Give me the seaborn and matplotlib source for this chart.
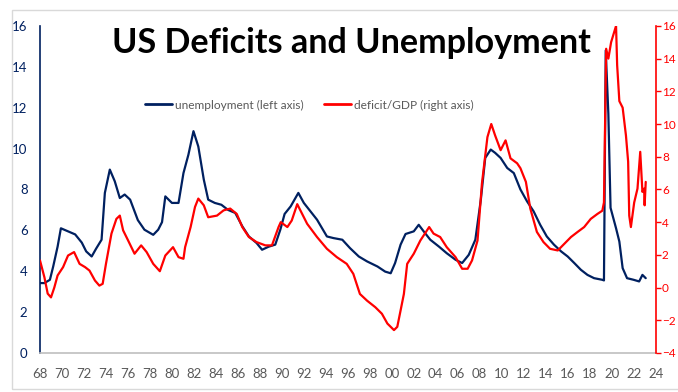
import matplotlib
matplotlib.use("Agg")
import matplotlib.pyplot as plt
from matplotlib.lines import Line2D
from matplotlib.patches import Rectangle
import seaborn as sns
import pandas as pd

# unemployment rate (%), left axis -- positions in chart years as drawn
unemp_year = [1968.0, 1968.4, 1968.9, 1969.2, 1969.6, 1969.9, 1970.55, 1971.2, 1971.8, 1972.2,
              1972.7, 1973.1, 1973.6, 1973.9, 1974.35, 1974.8, 1975.26, 1975.7, 1976.2, 1976.9,
              1977.5, 1978.3, 1978.75, 1979.1, 1979.4, 1980.0, 1980.6, 1981.05, 1981.5, 1981.96,
              1982.4, 1982.9, 1983.3, 1983.9, 1984.5, 1985.1, 1985.76, 1986.4, 1987.0, 1987.7,
              1988.2, 1988.8, 1989.4, 1989.86, 1990.25, 1990.8, 1991.5, 1992.0, 1992.6, 1993.2,
              1994.1, 1994.7, 1995.5, 1996.2, 1997.0, 1997.75, 1998.7, 1999.4, 1999.9, 2000.3,
              2000.8, 2001.25, 2002.0, 2002.45, 2002.9, 2003.5, 2004.3, 2005.0, 2005.8, 2006.4,
              2007.0, 2007.6, 2008.1, 2008.5, 2009.0, 2009.4, 2009.9, 2010.5, 2011.1, 2011.7,
              2012.3, 2012.9, 2013.5, 2014.1, 2014.75, 2015.4, 2016.0, 2016.6, 2017.2, 2017.8,
              2018.4, 2019.15, 2019.3, 2019.46, 2019.7, 2019.9, 2020.4, 2020.7, 2021.0, 2021.4,
              2022.0, 2022.5, 2022.8, 2023.1]
unemp_rate = [3.42, 3.42, 3.58, 4.23, 5.2, 6.1, 5.95, 5.8, 5.4, 4.97,
              4.72, 5.1, 5.54, 7.83, 8.97, 8.4, 7.58, 7.75, 7.5, 6.5,
              6.03, 5.78, 6.03, 6.4, 7.66, 7.34, 7.34, 8.8, 9.7, 10.85,
              10.1, 8.48, 7.5, 7.34, 7.25, 7.0, 6.85, 6.2, 5.7, 5.38,
              5.05, 5.2, 5.3, 6.03, 6.8, 7.17, 7.83, 7.34, 6.93, 6.52,
              5.7, 5.62, 5.54, 5.13, 4.72, 4.48, 4.23, 3.98, 3.9, 4.4,
              5.3, 5.82, 5.95, 6.27, 5.95, 5.54, 5.2, 4.88, 4.56, 4.4,
              4.8, 5.54, 7.5, 9.54, 9.95, 9.79, 9.54, 9.05, 8.8, 8.0,
              7.42, 6.93, 6.27, 5.7, 5.3, 4.97, 4.72, 4.4, 4.07, 3.82,
              3.66, 3.58, 3.55, 14.8, 11.7, 7.1, 6.1, 5.45, 4.15, 3.66,
              3.58, 3.5, 3.82, 3.66]

# deficit as % of GDP, right axis
deficit_year = [1968.0, 1968.4, 1968.7, 1969.0, 1969.3, 1969.6, 1970.1, 1970.55, 1971.1, 1971.6,
                1972.1, 1972.5, 1973.0, 1973.4, 1973.7, 1974.0, 1974.5, 1974.95, 1975.26, 1975.56,
                1976.0, 1976.6, 1977.2, 1977.7, 1978.3, 1978.9, 1979.4, 1980.1, 1980.6, 1981.05,
                1981.2, 1981.7, 1982.1, 1982.4, 1982.9, 1983.3, 1984.1, 1984.7, 1985.3, 1985.9,
                1986.4, 1987.0, 1987.7, 1988.5, 1989.1, 1989.7, 1989.9, 1990.5, 1990.9, 1991.4,
                1991.7, 1992.3, 1993.2, 1994.1, 1995.0, 1995.9, 1996.5, 1997.1, 1997.75, 1998.5,
                1999.1, 1999.6, 2000.2, 2000.5, 2000.8, 2001.1, 2001.4, 2002.0, 2002.6, 2003.4,
                2003.8, 2004.4, 2005.0, 2005.8, 2006.4, 2006.9, 2007.3, 2007.8, 2008.2, 2008.7,
                2009.05, 2009.4, 2009.9, 2010.35, 2010.8, 2011.4, 2011.7, 2012.2, 2012.6, 2013.2,
                2013.8, 2014.4, 2015.1, 2015.7, 2016.3, 2016.9, 2017.5, 2018.1, 2018.7, 2019.15,
                2019.3, 2019.5, 2019.7, 2019.95, 2020.4, 2020.5, 2020.7, 2021.0, 2021.3, 2021.5,
                2021.6, 2021.75, 2022.05, 2022.35, 2022.6, 2022.8, 2022.95, 2023.0, 2023.1]
deficit_gdp = [1.66, 0.63, -0.37, -0.6, 0.0, 0.74, 1.25, 1.96, 2.17, 1.45,
               1.25, 1.04, 0.43, 0.12, 0.23, 1.45, 3.3, 4.2, 4.4, 3.5,
               2.9, 2.07, 2.58, 2.17, 1.45, 1.0, 1.96, 2.47, 1.86, 1.76,
               2.47, 3.7, 4.93, 5.44, 5.03, 4.3, 4.4, 4.72, 4.83, 4.5,
               3.7, 3.09, 2.78, 2.58, 2.58, 3.7, 4.0, 3.7, 4.1, 5.1,
               4.7, 3.9, 3.09, 2.37, 1.86, 1.45, 0.84, -0.39, -0.8, -1.2,
               -1.6, -2.2, -2.6, -2.4, -1.4, -0.39, 1.45, 2.07, 2.88, 3.7,
               3.3, 3.09, 2.47, 1.86, 1.15, 1.15, 1.66, 2.88, 6.36, 9.2,
               10.0, 9.3, 8.4, 9.0, 7.9, 7.6, 7.3, 6.46, 4.83, 3.4,
               2.78, 2.37, 2.27, 2.68, 3.09, 3.4, 3.7, 4.2, 4.5, 4.7,
               5.2, 14.6, 14.0, 15.0, 16.0, 13.6, 11.4, 11.0, 9.3, 7.7,
               4.4, 3.7, 5.2, 6.05, 8.3, 5.85, 6.05, 5.03, 6.46]

year_ticks = list(range(1968, 2025, 2))
year_labels = [f"{y % 100:02d}" for y in year_ticks]

NAVY = "#002060"
RED = "#FF0000"
GREY = "#595959"

sns.set_style("white")
plt.rcParams["font.family"] = ["Lato", "DejaVu Sans"]

unemp_df = pd.DataFrame({"year": unemp_year, "rate": unemp_rate})
deficit_df = pd.DataFrame({"year": deficit_year, "deficit": deficit_gdp})

fig = plt.figure(figsize=(6.78, 3.92), dpi=100)
ax = fig.add_axes([0.059, 0.0995, 0.908, 0.8345])
ax2 = ax.twinx()

sns.lineplot(data=unemp_df, x="year", y="rate", ax=ax, color=NAVY, linewidth=1.6)
sns.lineplot(data=deficit_df, x="year", y="deficit", ax=ax2, color=RED, linewidth=1.6)

ax.set_xlim(1968, 2024)
ax.set_ylim(0, 16)
ax2.set_ylim(-4, 16)
ax.set_xticks(year_ticks)
ax.set_xticklabels(year_labels)
ax.set_yticks(range(0, 17, 2))
ax2.set_yticks(range(-4, 17, 2))
ax.set_xlabel("")
ax.set_ylabel("")
ax2.set_ylabel("")

ax.tick_params(axis="x", length=0, pad=11, labelsize=9.5, labelcolor=GREY)
ax.tick_params(axis="y", length=0, pad=9, labelsize=9.5, labelcolor=NAVY)
ax2.tick_params(axis="y", length=3.5, width=1, color=RED, pad=1, labelsize=8.5, labelcolor=RED)

for a in (ax, ax2):
    a.spines["top"].set_visible(False)
ax.spines["right"].set_visible(False)
ax2.spines["left"].set_visible(False)
ax2.spines["bottom"].set_visible(False)
ax.spines["left"].set_color(NAVY)
ax.spines["left"].set_linewidth(1.2)
ax.spines["bottom"].set_color("#BFBFBF")
ax.spines["bottom"].set_linewidth(1.2)
ax2.spines["right"].set_color(RED)
ax2.spines["right"].set_linewidth(1.2)

handles = [Line2D([], [], color=NAVY, linewidth=2),
           Line2D([], [], color=RED, linewidth=2)]
leg = ax.legend(handles, ["unemployment (left axis)", "deficit/GDP (right axis)"],
                loc="center left", bbox_to_anchor=(0.153, 0.758), ncol=2, frameon=False,
                fontsize=8.6, handlelength=2.3, handletextpad=0.2, columnspacing=1.7)
for t in leg.get_texts():
    t.set_color(GREY)

fig.text(0.518, 0.865, "US Deficits and Unemployment", ha="center", va="baseline",
         fontsize=24.6, fontweight="bold", color="black")

fig.patches.append(Rectangle((12 / 678, 3 / 392), 1.0, 1 - 13 / 392, transform=fig.transFigure,
                             fill=False, edgecolor="#D9D9D9", linewidth=1))

fig.savefig("out.png", dpi=100)
